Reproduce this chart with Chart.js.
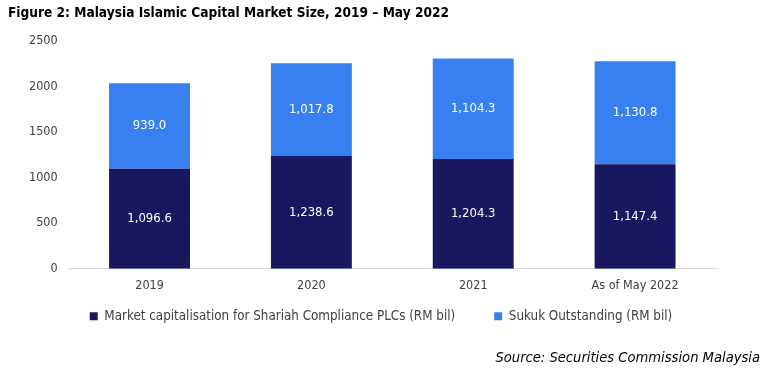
<!DOCTYPE html>
<html>
<head>
<meta charset="utf-8">
<script src="https://cdn.jsdelivr.net/npm/chart.js@4"></script>
<style>
  body { margin: 0; background: #fff; width: 770px; height: 376px; position: relative; overflow: hidden; }
  .title { position: absolute; left: 8px; top: 4px; font: bold 13.6px "DejaVu Sans Condensed", "DejaVu Sans", sans-serif; color: #000; }
  .source { position: absolute; right: 10px; top: 348px; font: italic 14.6px "DejaVu Sans Condensed", "DejaVu Sans", sans-serif; color: #000; }
  .wrap { position: absolute; left: 0; top: 0; width: 770px; height: 376px; }
</style>
</head>
<body>
<div class="wrap"><canvas id="chart"></canvas></div>
<div class="title">Figure 2: Malaysia Islamic Capital Market Size, 2019 – May 2022</div>
<div class="source">Source: Securities Commission Malaysia</div>
<script>
const years = ["2019", "2020", "2021", "As of May 2022"];
const marketCap = [1096.6, 1238.6, 1204.3, 1147.4];
const sukuk = [939.0, 1017.8, 1104.3, 1130.8];
const seriesNames = ["Market capitalisation for Shariah Compliance PLCs (RM bil)", "Sukuk Outstanding (RM bil)"];

const fontFamily = '"DejaVu Sans Condensed", "DejaVu Sans", sans-serif';

// white value labels in the middle of every bar segment
const segmentLabels = {
  id: "segmentLabels",
  afterDatasetsDraw(chart) {
    const ctx = chart.ctx;
    ctx.save();
    ctx.fillStyle = "#ffffff";
    ctx.font = "13px " + fontFamily;
    ctx.textAlign = "center";
    ctx.textBaseline = "middle";
    chart.data.datasets.forEach((ds, i) => {
      chart.getDatasetMeta(i).data.forEach((bar, j) => {
        const p = bar.getProps(["x", "y", "base"], true);
        const txt = ds.data[j].toLocaleString("en-US", { minimumFractionDigits: 1, maximumFractionDigits: 1 });
        ctx.fillText(txt, p.x, (p.y + p.base) / 2);
      });
    });
    ctx.restore();
  }
};

// legend needs wide gaps between items but sits close under the axis,
// so shift its drawing up a bit
const legendShift = {
  id: "legendShift",
  afterInit(chart) {
    const leg = chart.legend;
    const draw = leg.draw.bind(leg);
    leg.draw = function () {
      chart.ctx.save();
      chart.ctx.translate(10, -25);
      draw();
      chart.ctx.restore();
    };
  }
};

new Chart(document.getElementById("chart"), {
  type: "bar",
  data: {
    labels: years,
    datasets: [
      { label: seriesNames[0], data: marketCap, backgroundColor: "#18175f", barPercentage: 0.5, categoryPercentage: 1 },
      { label: seriesNames[1], data: sukuk, backgroundColor: "#3880f0", barPercentage: 0.5, categoryPercentage: 1 }
    ]
  },
  options: {
    responsive: true,
    maintainAspectRatio: false,
    animation: false,
    layout: { padding: { left: 26, right: 54, top: 41, bottom: 18 } },
    plugins: {
      legend: {
        position: "bottom",
        labels: {
          boxWidth: 8,
          boxHeight: 8,
          padding: 39,
          color: "#404040",
          font: { family: fontFamily, size: 13.3 }
        }
      },
      tooltip: { enabled: false }
    },
    scales: {
      x: {
        stacked: true,
        grid: { display: false },
        border: { color: "#d9d9d9" },
        ticks: { color: "#404040", font: { family: fontFamily, size: 12.5 }, padding: 2 }
      },
      y: {
        stacked: true,
        min: 0,
        max: 2500,
        grid: { display: false },
        border: { display: false },
        ticks: { stepSize: 500, color: "#404040", font: { family: fontFamily, size: 12.5 }, padding: 3, callback: v => v }
      }
    }
  },
  plugins: [segmentLabels, legendShift]
});
</script>
</body>
</html>
